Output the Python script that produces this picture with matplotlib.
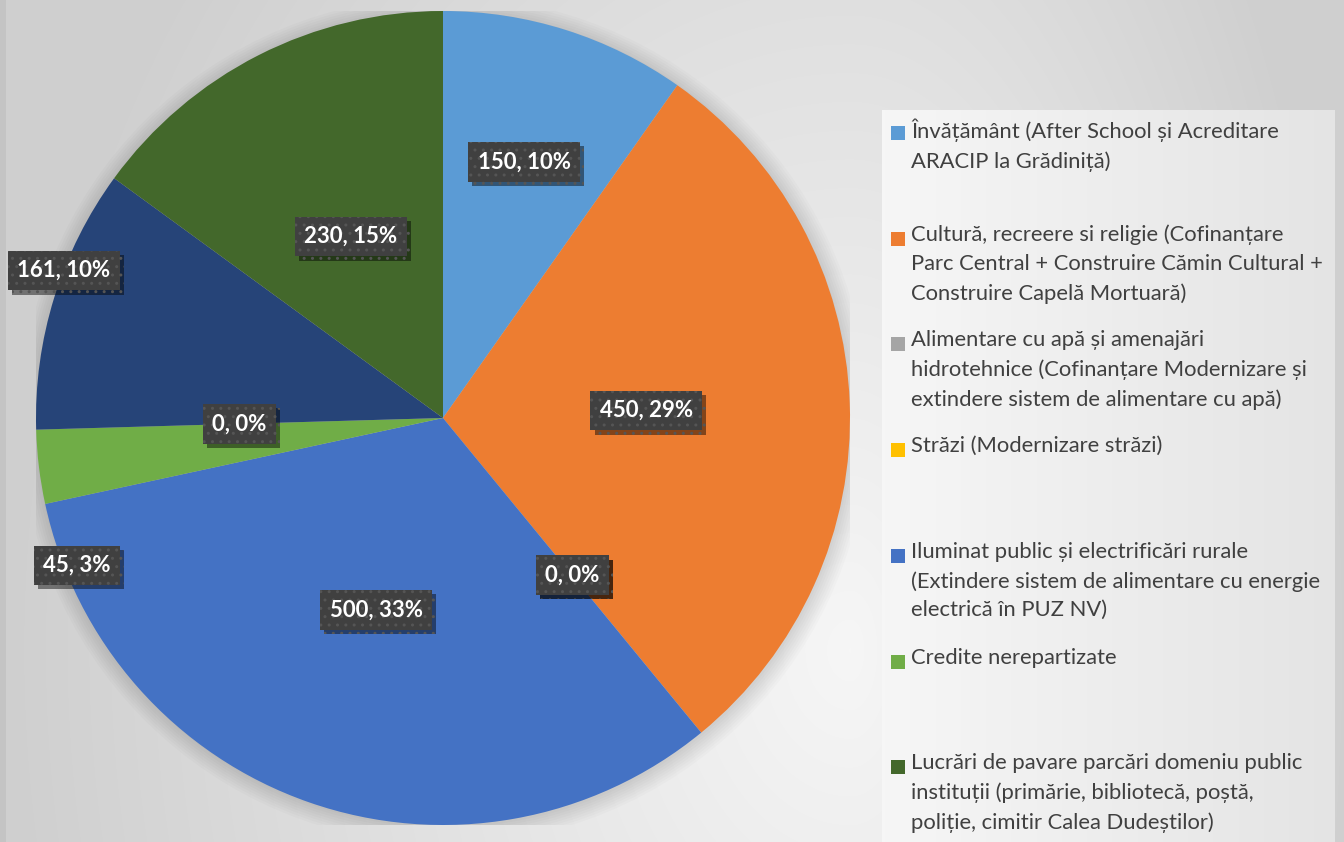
"""
Pie chart: buget pe capitole (valori si procente) cu legenda in dreapta
"""

import matplotlib.pyplot as plt
import matplotlib.patches as mpatches
import matplotlib.patheffects as pe
import numpy as np

plt.rcParams['font.family'] = ['Lato', 'DejaVu Sans']

# Slices in clockwise order starting at 12 o'clock
values = [150, 450, 0, 0, 500, 45, 0, 161, 230]
colors = ['#5B9BD5', '#ED7D31', '#A5A5A5', '#FFC000', '#4472C4',
          '#70AD47', '#255E91', '#264478', '#43682B']

# Legend entries (slice index, text) - text broken as in the original
legend_slices = [0, 1, 2, 3, 4, 5, 8]
legend_texts = [
    "Învățământ (After School și Acreditare\nARACIP la Grădiniță)",
    "Cultură, recreere si religie (Cofinanțare\nParc Central + Construire Cămin Cultural +\nConstruire Capelă Mortuară)",
    "Alimentare cu apă și amenajări\nhidrotehnice (Cofinanțare Modernizare și\nextindere sistem de alimentare cu apă)",
    "Străzi (Modernizare străzi)",
    "Iluminat public și electrificări rurale\n(Extindere sistem de alimentare cu energie\nelectrică în PUZ NV)",
    "Credite nerepartizate",
    "Lucrări de pavare parcări domeniu public\ninstituții (primărie, bibliotecă, poștă,\npoliție, cimitir Calea Dudeștilor)",
]

W, H = 1344, 842
fig = plt.figure(figsize=(W / 100, H / 100), dpi=100)

# ---- background (soft grey gradient, lighter legend panel) ----
bg = fig.add_axes([0, 0, 1, 1], zorder=-10)
bg.axis('off')
xx, yy = np.meshgrid(np.arange(W), np.arange(H))
dx = np.where(xx < 850, (850 - xx) / 830.0, (xx - 850) / 494.0)
dy = np.abs(yy - 650) / 1100.0
shade = 0.965 - 0.15 * np.clip(np.sqrt(dx ** 2 + dy ** 2), 0, 1)
bg.imshow(np.dstack([shade] * 3), extent=(0, W, H, 0), aspect='auto',
          interpolation='bilinear')
panel = np.linspace(0.965, 0.895, 200)[None, :].repeat(2, axis=0)
bg.imshow(np.dstack([panel] * 3), extent=(882, 1335, 842, 110), aspect='auto',
          interpolation='bilinear')
bg.add_patch(mpatches.Rectangle((0, 0), 6, H, color='#c4c4c4', lw=0))
bg.set_xlim(0, W)
bg.set_ylim(H, 0)

# ---- pie ----
ax = fig.add_axes([36 / W, 1 - 825 / H, 814 / W, 814 / H])

# soft shadow around the pie
for k in range(8):
    ax.add_patch(mpatches.Circle((0.004, -0.006), 1.0 + 0.006 * k,
                                 color='black', alpha=0.015, lw=0, zorder=0))

wedges, _ = ax.pie(values, colors=colors, startangle=90, counterclock=False,
                   radius=1.0, wedgeprops=dict(linewidth=0))
for w in wedges:
    w.set_zorder(1)
ax.set_xlim(-1, 1)
ax.set_ylim(-1, 1)
ax.axis('off')

# label radius (fraction of radius) and angle shift per slice
label_r = [0.66, 0.5, 0.5, 0.5, 0.5, 0.97, 0.5, 1.0, 0.5]
label_shift = [0, 0, 0, 0, 0, 15, 0, -4, 0]

total = sum(values)
for i, w in enumerate(wedges):
    mid = 0.5 * (w.theta1 + w.theta2) + label_shift[i]
    x = label_r[i] * np.cos(np.radians(mid))
    y = label_r[i] * np.sin(np.radians(mid))
    pct = round(100 * values[i] / total)
    t = ax.text(x, y, f"{values[i]}, {pct}%", ha='center', va='center',
                fontsize=16, fontweight='bold', color='white', zorder=5,
                bbox=dict(boxstyle='square,pad=0.42', fc='#404040',
                          ec='#555555', lw=0, hatch='..'))
    t.get_bbox_patch().set_path_effects(
        [pe.SimplePatchShadow(offset=(3, -3), shadow_rgbFace='black', alpha=0.45),
         pe.Normal()])

# ---- legend ----
for k, (si, txt) in enumerate(zip(legend_slices, legend_texts)):
    ytop = 133 + k * 105.7
    bg.add_patch(mpatches.Rectangle((891, ytop - 7), 14, 14,
                                    color=colors[si], lw=0))
    bg.text(911, ytop - 14, txt, ha='left', va='top', fontsize=15.8,
            color='#404040', linespacing=1.55)

plt.savefig('out.png', dpi=100)
